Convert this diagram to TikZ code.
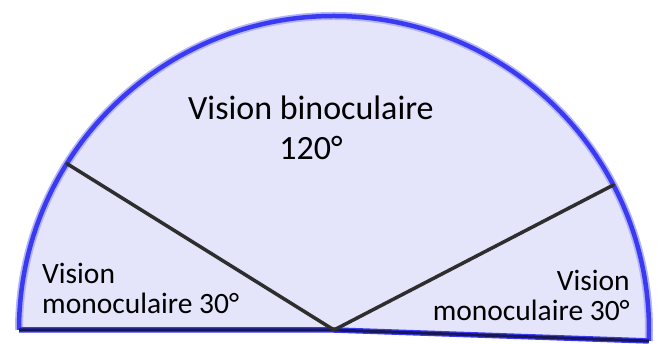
\documentclass[tikz,border=0pt]{standalone}
\usepackage{fontspec}
\setmainfont{Carlito}
\usepackage{xcolor}
\usepackage{tikz}
\usetikzlibrary{calc}
\definecolor{FieldFill}{HTML}{E4E4FA}
\definecolor{FieldBlue}{HTML}{3A3AF2}
\definecolor{FieldGlow}{HTML}{B4B4F8}
\definecolor{FieldNavy}{HTML}{16165A}
\definecolor{SpokeGray}{HTML}{2E2E2E}

\begin{document}
\begin{tikzpicture}[
	x=1pt, y=1pt,
	rim/.style={draw=FieldBlue, line width=4.5pt},
	glow/.style={draw=FieldGlow, line width=8pt},
	spoke/.style={draw=SpokeGray, line width=3.5pt, line cap=round},
	biglabel/.style={align=center, inner sep=0pt, font=\fontsize{34}{40}\selectfont},
	smalllabel/.style={inner sep=0pt, font=\fontsize{29.5}{30}\selectfont}
]
\useasboundingbox (0,0) rectangle (665,344);
\coordinate (O) at (334,14);
\coordinate (left) at ($(O)+(180:315 and 314)$);
\coordinate (right) at ($(O)+(-2:315 and 314)$);
\coordinate (L) at ($(O)+(148:315 and 314)$);
\coordinate (R) at ($(O)+(27.5:315 and 314)$);

% field of view
\fill[FieldFill] (left) arc[start angle=180, end angle=-2, x radius=315, y radius=314] -- (O) -- cycle;
\draw[glow] (left) arc[start angle=180, end angle=-2, x radius=315, y radius=314];
\draw[rim] (left) arc[start angle=180, end angle=-2, x radius=315, y radius=314];
\draw[FieldBlue, line width=5.5pt] (left) -- (O) -- (right);
\draw[FieldNavy, line width=3pt] (left) -- (O) -- (right);

\draw[spoke] (O) -- (L);
\draw[spoke] (O) -- (R);

\node[biglabel] (bino) at (311,216) {Vision binoculaire\\120°};
\node[smalllabel, anchor=west, align=left] (monoL) at (42,56) {Vision\\monoculaire 30°};
\node[smalllabel, anchor=east, align=right] (monoR) at (630,49) {Vision\\monoculaire 30°};
\end{tikzpicture}
\end{document}
